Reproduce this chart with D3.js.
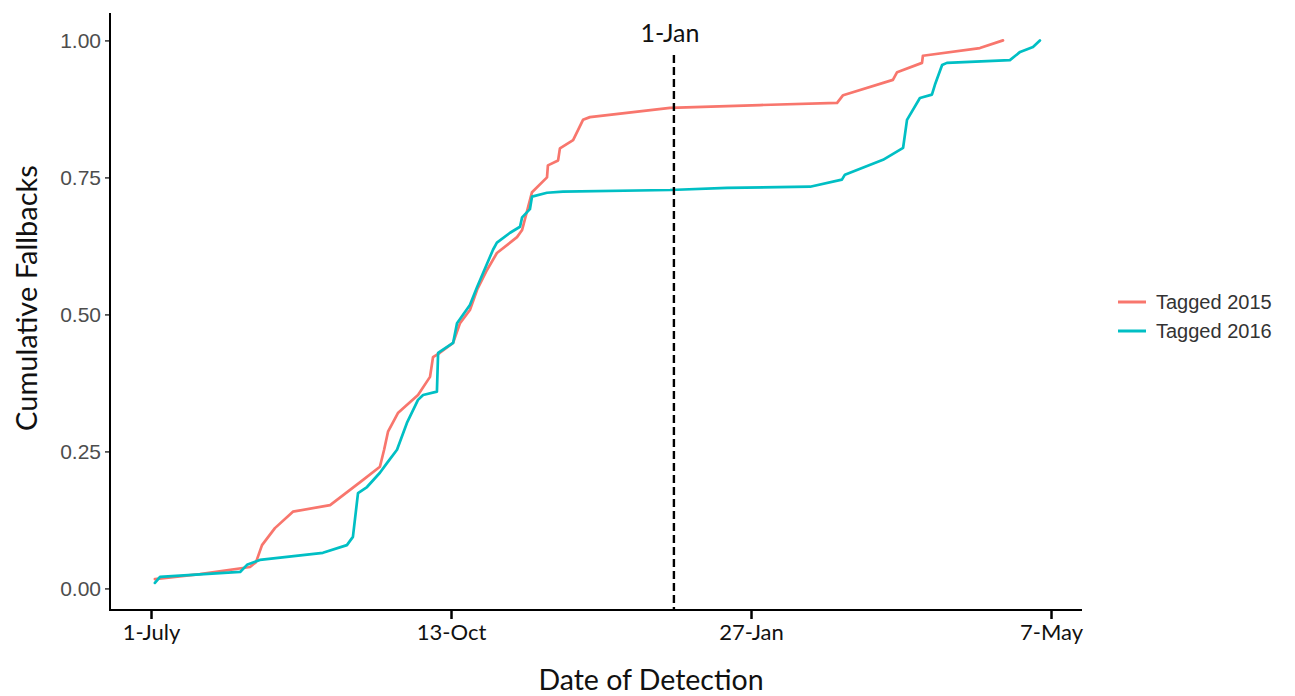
<!DOCTYPE html>
<html>
<head>
<meta charset="utf-8">
<script src="https://d3js.org/d3.v7.min.js"></script>
<style>
  html, body { margin: 0; padding: 0; background: #fff; }
  svg { display: block; }
</style>
</head>
<body>
<svg id="chart" width="1295" height="696"></svg>
<script>
// ---- data (x in season units, 1-July = 0) ----
const seriesNames = ["Tagged 2015", "Tagged 2016"];
const x2015 = [1.3, 16.3, 33, 35, 37, 41.3, 47.3, 59.7, 70.7, 76.3, 77.7, 79, 82.3, 89, 93, 94, 96.3, 100.7, 103, 106.3, 108.7, 112, 115.3, 122, 123.7, 127, 132, 132.3, 135.7, 136.3, 140.7, 144, 146.3, 173, 203, 228.7, 230.7, 247.3, 248.7, 257, 257.3, 276.3, 284];
const y2015 = [0.017, 0.026, 0.039, 0.048, 0.079, 0.110, 0.140, 0.152, 0.198, 0.222, 0.253, 0.286, 0.320, 0.353, 0.386, 0.422, 0.430, 0.448, 0.484, 0.508, 0.545, 0.581, 0.612, 0.641, 0.654, 0.723, 0.750, 0.772, 0.781, 0.803, 0.818, 0.855, 0.860, 0.877, 0.882, 0.886, 0.900, 0.928, 0.942, 0.959, 0.972, 0.986, 1.000];
const x2016 = [1.3, 3, 29.7, 32, 36.3, 57.3, 65.3, 67.3, 69, 72, 76.3, 78.7, 82, 85.3, 89, 90.7, 95.3, 95.7, 100.7, 102, 106.3, 108.7, 114, 115.3, 119.7, 123, 123.7, 126.3, 127, 132, 137.3, 173, 192, 219.7, 230.3, 231.3, 244, 250.7, 252, 256.3, 260.3, 261.3, 263.7, 265.3, 286.3, 289.7, 294, 296.3];
const y2016 = [0.010, 0.021, 0.030, 0.043, 0.052, 0.065, 0.079, 0.094, 0.174, 0.185, 0.211, 0.229, 0.253, 0.302, 0.344, 0.353, 0.359, 0.430, 0.448, 0.484, 0.517, 0.550, 0.618, 0.631, 0.649, 0.660, 0.677, 0.692, 0.715, 0.722, 0.724, 0.727, 0.731, 0.733, 0.746, 0.755, 0.782, 0.804, 0.855, 0.895, 0.901, 0.919, 0.955, 0.959, 0.964, 0.979, 0.988, 1.000];
const xTickValues = [0, 100, 200, 300];
const xTickLabels = ["1-July", "13-Oct", "27-Jan", "7-May"];
const yTickValues = [0, 0.25, 0.5, 0.75, 1.0];
const markerX = 174.3;
const markerLabel = "1-Jan";
const colors = ["#F8766D", "#00BFC4"];

// ---- layout ----
const svg = d3.select("#chart");
const pLeft = 110, pRight = 1082, pTop = 13, pBottom = 610;

const x = d3.scaleLinear().domain([-13.67, 310.33]).range([pLeft, pRight]);
const y = d3.scaleLinear().domain([-0.0394, 1.0500]).range([pBottom, pTop]);

const series = [
  { name: seriesNames[0], pts: x2015.map((d, i) => [d, y2015[i]]), color: colors[0] },
  { name: seriesNames[1], pts: x2016.map((d, i) => [d, y2016[i]]), color: colors[1] }
];

const line = d3.line().x(d => x(d[0])).y(d => y(d[1]));

series.forEach(s => {
  svg.append("path")
    .datum(s.pts)
    .attr("fill", "none")
    .attr("stroke", s.color)
    .attr("stroke-width", 2.7)
    .attr("stroke-linejoin", "round")
    .attr("stroke-linecap", "round")
    .attr("d", line);
});

// dashed marker
svg.append("line")
  .attr("x1", x(markerX)).attr("x2", x(markerX))
  .attr("y1", 55).attr("y2", pBottom)
  .attr("stroke", "#000").attr("stroke-width", 2.4)
  .attr("stroke-dasharray", "8,4");
svg.append("text")
  .attr("x", x(markerX) - 4).attr("y", 42)
  .attr("text-anchor", "middle")
  .attr("font-family", "Lato, 'Open Sans', sans-serif")
  .attr("font-size", 25)
  .attr("fill", "#111")
  .text(markerLabel);

// y axis
const yAxis = d3.axisLeft(y).tickValues(yTickValues).tickFormat(d3.format(".2f")).tickSize(5).tickSizeOuter(0);
const gy = svg.append("g").attr("transform", `translate(${pLeft},0)`).call(yAxis);
gy.select(".domain").remove();
gy.selectAll(".tick line").attr("stroke", "#333").attr("stroke-width", 1.5);
gy.selectAll(".tick text")
  .attr("x", -9)
  .attr("font-family", "'Liberation Sans', Arial, sans-serif")
  .attr("font-size", 21)
  .attr("fill", "#4D4D4D");
svg.append("line").attr("x1", pLeft).attr("x2", pLeft).attr("y1", pTop).attr("y2", pBottom + 1)
  .attr("stroke", "#000").attr("stroke-width", 2);

// x axis
const xAxis = d3.axisBottom(x).tickValues(xTickValues).tickFormat((d, i) => xTickLabels[i]).tickSize(9).tickSizeOuter(0);
const gx = svg.append("g").attr("transform", `translate(0,${pBottom})`).call(xAxis);
gx.select(".domain").remove();
gx.selectAll(".tick line").attr("stroke", "#000").attr("stroke-width", 2.5);
gx.selectAll(".tick text")
  .attr("y", 14)
  .attr("font-family", "Lato, 'Open Sans', sans-serif")
  .attr("font-size", 22)
  .attr("fill", "#111");
svg.append("line").attr("x1", pLeft - 1).attr("x2", pRight).attr("y1", pBottom).attr("y2", pBottom)
  .attr("stroke", "#000").attr("stroke-width", 2);

// axis titles
svg.append("text")
  .attr("x", 651).attr("y", 690)
  .attr("text-anchor", "middle")
  .attr("font-family", "Lato, 'Open Sans', sans-serif")
  .attr("font-size", 28.5)
  .attr("fill", "#111")
  .text("Date of Detection");
svg.append("text")
  .attr("transform", "translate(37,298) rotate(-90)")
  .attr("text-anchor", "middle")
  .attr("font-family", "Lato, 'Open Sans', sans-serif")
  .attr("font-size", 29)
  .attr("fill", "#111")
  .text("Cumulative Fallbacks");

// legend
const lg = svg.append("g");
series.forEach((s, i) => {
  const yy = 302 + i * 29;
  lg.append("line").attr("x1", 1118).attr("x2", 1146).attr("y1", yy).attr("y2", yy)
    .attr("stroke", s.color).attr("stroke-width", 3);
  lg.append("text").attr("x", 1156).attr("y", yy + 7)
    .attr("font-family", "'Liberation Sans', Arial, sans-serif")
    .attr("font-size", 20)
    .attr("fill", "#333")
    .text(s.name);
});
</script>
</body>
</html>
